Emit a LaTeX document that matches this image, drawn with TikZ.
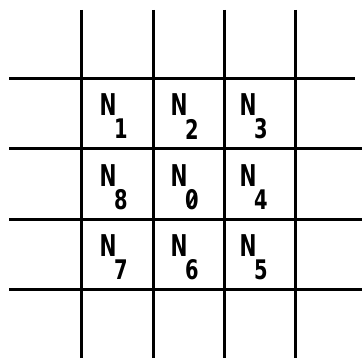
\documentclass[tikz,border=0pt]{standalone}
\usepackage{fontspec}
\newfontfamily\lblfont{DejaVu Sans Condensed}
\begin{document}
\begin{tikzpicture}[x=1pt,y=-1pt,
  gridline/.style={line width=3pt,black},
  lab/.style={inner sep=0pt,font=\lblfont\bfseries\fontsize{30}{30}\selectfont},
  subl/.style={inner sep=0pt,font=\lblfont\bfseries\fontsize{27}{27}\selectfont}]
\useasboundingbox (0,0) rectangle (362,358);
% vertical lines
\foreach \x in {81,153,224,295} \draw[gridline] (\x,10) -- (\x,358);
% horizontal lines
\draw[gridline] (9,79) -- (355,79);
\foreach \y in {149,220,290} \draw[gridline] (9,\y) -- (362,\y);
% labels
\foreach \name/\d/\cx/\cy in {1/1/108/105, 2/2/179/105, 3/3/248/105,
                              8/8/108/176, 0/0/179/176, 4/4/248/176,
                              7/7/108/246, 6/6/179/246, 5/5/248/246} {
  \node[lab] (N\name) at (\cx,\cy) {\scalebox{0.75}[1]{N}};
  \node[subl] (S\name) at ([shift={(13,24)}]N\name.center) {\scalebox{0.8}[1]{\d}};
}
\draw[line width=2pt] ([shift={(-4,7)}]S0.center) -- ([shift={(4,-7)}]S0.center);
\end{tikzpicture}
\end{document}
